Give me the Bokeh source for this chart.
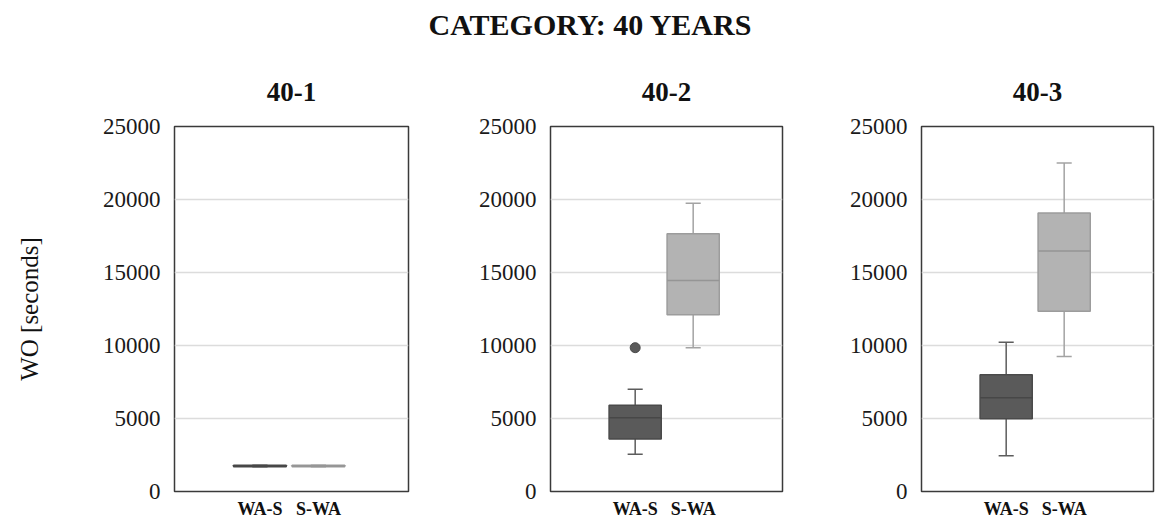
from bokeh.plotting import figure
from bokeh.layouts import column, row
from bokeh.models import Range1d, FixedTicker, NumeralTickFormatter
from bokeh.embed import file_html
from bokeh.resources import INLINE

SERIF = "Liberation Serif"

main_title = "CATEGORY: 40 YEARS"
y_label = "WO [seconds]"
panels = ["40-1", "40-2", "40-3"]
categories = ["WA-S", "S-WA"]
y_ticks = [0, 5000, 10000, 15000, 20000, 25000]

# five-number summaries, one row per panel, [WA-S, S-WA]
whisker_low = [[1700, 1700], [2550, 9850], [2450, 9250]]
quartile_1 = [[1700, 1700], [3600, 12100], [4980, 12350]]
medians = [[1750, 1750], [5050, 14450], [6420, 16480]]
quartile_3 = [[1800, 1800], [5900, 17650], [8000, 19080]]
whisker_high = [[1800, 1800], [7000, 19750], [10230, 22500]]
# outliers: (panel index, category, value)
outlier_panel = [1]
outlier_cat = ["WA-S"]
outlier_val = [9850]

fill_colors = ["#5a5a5a", "#b3b3b3"]
edge_colors = ["#4a4a4a", "#9c9c9c"]
median_colors = ["#474747", "#959595"]
whisker_colors = ["#5c5c5c", "#a3a3a3"]

widths = [430, 370, 357]
left_borders = [174, 120, 121]
right_borders = [22, 18, 4]
H = 471

figs = []
for i, name in enumerate(panels):
    p = figure(width=widths[i], height=H, output_backend="svg", toolbar_location=None,
               x_range=Range1d(-0.96, 3.04), y_range=Range1d(0, 25000),
               min_border_left=left_borders[i], min_border_right=right_borders[i],
               min_border_top=76, min_border_bottom=28)
    p.title.text = name
    p.title.align = "center"
    p.title.text_font = SERIF
    p.title.text_font_size = "27px"
    p.title.text_font_style = "bold"
    p.title.text_color = "#111111"
    p.title.standoff = 52

    xs = [k + 0.5 for k in range(len(categories))]
    box_w = 0.9
    cap = 0.13
    # whiskers
    p.segment(x0=xs, x1=xs, y0=whisker_low[i], y1=quartile_1[i], line_color=whisker_colors, line_width=1.5)
    p.segment(x0=xs, x1=xs, y0=quartile_3[i], y1=whisker_high[i], line_color=whisker_colors, line_width=1.5)
    p.segment(x0=[x - cap for x in xs], x1=[x + cap for x in xs], y0=whisker_low[i], y1=whisker_low[i],
              line_color=whisker_colors, line_width=1.5)
    p.segment(x0=[x - cap for x in xs], x1=[x + cap for x in xs], y0=whisker_high[i], y1=whisker_high[i],
              line_color=whisker_colors, line_width=1.5)
    # boxes
    p.vbar(x=xs, width=box_w, bottom=quartile_1[i], top=quartile_3[i],
           fill_color=fill_colors, line_color=edge_colors, line_width=1.5)
    p.segment(x0=[x - box_w / 2 for x in xs], x1=[x + box_w / 2 for x in xs], y0=medians[i], y1=medians[i],
              line_color=median_colors, line_width=1.5)
    # outliers
    ox = [categories.index(c) + 0.5 for pi, c in zip(outlier_panel, outlier_cat) if pi == i]
    oy = [v for pi, v in zip(outlier_panel, outlier_val) if pi == i]
    if ox:
        p.scatter(x=ox, y=oy, size=10, fill_color=fill_colors[0], line_color=edge_colors[0])

    p.yaxis.ticker = FixedTicker(ticks=y_ticks)
    p.yaxis.formatter = NumeralTickFormatter(format="0")
    p.ygrid.ticker = FixedTicker(ticks=y_ticks)
    p.ygrid.grid_line_color = "#dcdcdc"
    p.ygrid.grid_line_width = 1.5
    p.xgrid.grid_line_color = None
    p.xaxis.ticker = FixedTicker(ticks=xs)
    p.xaxis.major_label_overrides = {x: c for x, c in zip(xs, categories)}
    for ax in (p.xaxis, p.yaxis):
        ax.axis_line_color = None
        ax.major_tick_line_color = None
        ax.minor_tick_line_color = None
        ax.major_tick_out = 0
        ax.major_tick_in = 0
    p.yaxis.major_label_text_font = SERIF
    p.yaxis.major_label_text_font_size = "23px"
    p.yaxis.major_label_text_color = "#1a1a1a"
    p.yaxis.major_label_standoff = 14
    p.xaxis.major_label_text_font = SERIF
    p.xaxis.major_label_text_font_size = "18px"
    p.xaxis.major_label_text_font_style = "bold"
    p.xaxis.major_label_text_color = "#111111"
    p.xaxis.major_label_standoff = 7
    if i == 0:
        p.yaxis.axis_label = y_label
        p.yaxis.axis_label_text_font = SERIF
        p.yaxis.axis_label_text_font_style = "normal"
        p.yaxis.axis_label_text_font_size = "25px"
        p.yaxis.axis_label_text_color = "#111111"
        p.yaxis.axis_label_standoff = 57
    p.outline_line_color = "#3a3a3a"
    p.outline_line_width = 1.5
    p.background_fill_color = "white"
    p.border_fill_color = "white"
    figs.append(p)

t = figure(width=1157, height=50, output_backend="svg", toolbar_location=None,
           x_range=Range1d(0, 1), y_range=Range1d(0, 1), min_border=0, min_border_top=8)
t.title.text = main_title
t.title.align = "left"
t.title.offset = 428
t.title.text_font = SERIF
t.title.text_font_size = "30px"
t.title.text_font_style = "bold"
t.title.text_color = "#111111"
t.axis.visible = False
t.grid.visible = False
t.outline_line_color = None

layout = column(t, row(*figs))
open("out.html", "w").write(file_html(layout, INLINE))
